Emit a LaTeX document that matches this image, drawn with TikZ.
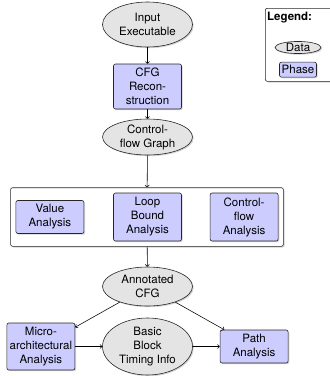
\documentclass[tikz,border=0pt]{standalone}
\usepackage{fontspec}
\setmainfont{TeX Gyre Heros}
\usetikzlibrary{arrows.meta, positioning, shapes.geometric, shadows, fit, backgrounds}
\definecolor{phasefill}{RGB}{204,204,255}
\definecolor{datafill}{RGB}{228,228,228}

\begin{document}
\begin{tikzpicture}[
        x=1pt, y=1pt,
        every node/.style={font=\fontsize{11.5}{14}\selectfont},
        node distance=10pt,
        shade/.style={drop shadow={shadow xshift=1.2pt, shadow yshift=-1.2pt, opacity=0.35}},
        data/.style={ellipse, draw=black!85, line width=0.6pt, fill=datafill, shade, minimum width=90pt, inner sep=0pt, align=center},
        phase/.style={rectangle, rounded corners=2pt, draw=black!85, line width=0.6pt, fill=phasefill, shade, minimum width=68pt, inner sep=2pt, align=center},
        group/.style={rectangle, rounded corners=2pt, draw=black!85, line width=0.6pt, fill=white, shade, inner sep=5pt},
        arrow/.style={-{To[length=2.5pt, width=4.5pt]}, line width=0.55pt}
    ]
    \useasboundingbox (0,0) rectangle (330,-376);

    % Nodes
    \node[data, minimum height=45pt] (input) at (147.5,-24.5) {Input\\Executable};
    \node[phase, minimum height=45pt] (cfg) at (147.5,-86.5) {CFG\\Recon-\\struction};
    \node[data, minimum height=36pt] (graph) at (147.5,-137) {Control-\\flow Graph};
    \node[phase, minimum height=48pt] (loop) at (147.5,-217) {Loop\\Bound\\Analysis};
    \node[phase, minimum height=33pt, left=29pt of loop] (value) {Value\\Analysis};
    \node[phase, minimum height=48pt, right=28pt of loop] (flow) {Control-\\flow\\Analysis};
    \begin{scope}[on background layer]
        \node[group, fit=(value)(loop)(flow)] (analyses) {};
    \end{scope}
    \node[data, minimum height=39pt] (annot) at (147.5,-286.5) {Annotated\\CFG};
    \node[data, minimum height=57pt] (timing) at (147.5,-346.5) {Basic\\Block\\Timing Info};
    \node[phase, minimum height=47pt, left=27pt of timing] (micro) {Micro-\\architectural\\Analysis};
    \node[phase, minimum height=33pt, right=27pt of timing] (path) {Path\\Analysis};

    % Legend
    \node[group, anchor=north west, minimum width=80pt, minimum height=73pt] (legend) at (265,-8) {};
    \node[anchor=north west, inner sep=0pt, below right=4pt and 2pt of legend.north west, font=\fontsize{11.5}{14}\selectfont\bfseries] (legtitle) {Legend:};
    \node[data, minimum width=46pt, minimum height=11pt] (legdata) at (298,-47.5) {Data};
    \node[phase, minimum width=37pt, minimum height=15pt, inner sep=2pt, below=8pt of legdata] (legphase) {Phase};

    % Arrows
    \draw[arrow] (input) -- (cfg);
    \draw[arrow] (cfg) -- (graph);
    \draw[arrow] (graph) -- (analyses);
    \draw[arrow] (analyses) -- (annot);
    \draw[arrow] (annot) -- (micro);
    \draw[arrow] (annot) -- (path);
    \draw[arrow] (micro) -- (timing);
    \draw[arrow] (timing) -- (path);

\end{tikzpicture}
\end{document}
